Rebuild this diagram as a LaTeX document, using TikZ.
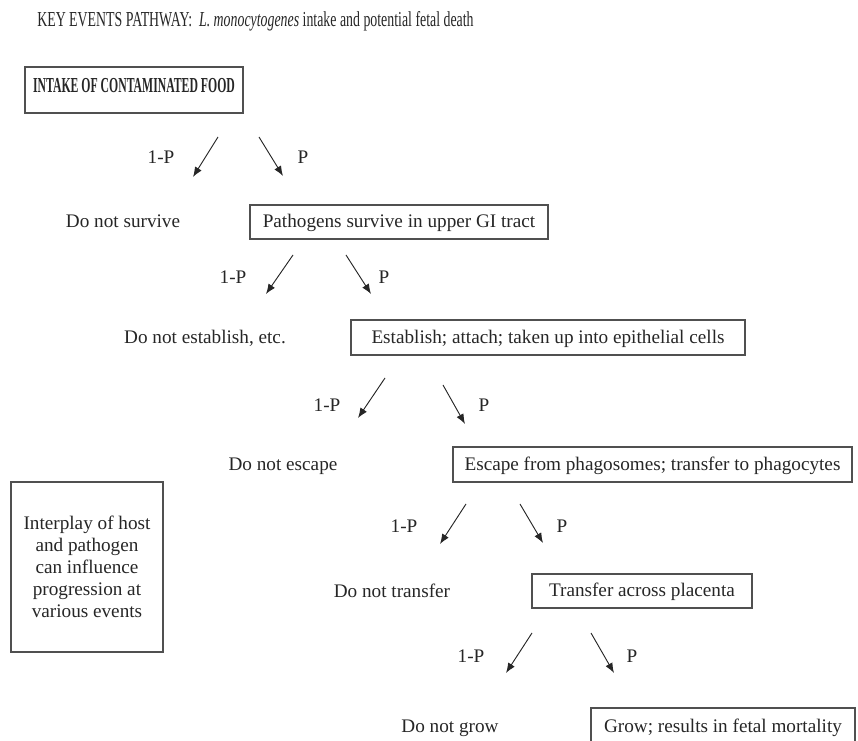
\documentclass[tikz,border=0pt]{standalone}
\usepackage{fontspec}
\setmainfont{Liberation Serif}
\newfontfamily\headfont{Liberation Serif}[FakeStretch=0.65]
\newfontfamily\stepfont{Liberation Serif}[FakeStretch=0.55]
\usetikzlibrary{arrows.meta}
\definecolor{ink}{HTML}{262626}
\definecolor{frame}{HTML}{505050}

\begin{document}
\begin{tikzpicture}[x=0.75pt,y=-0.75pt,
  every node/.style={text=ink, font=\fontsize{14.4}{16.5}\selectfont},
  stage/.style={draw=frame, line width=1.2pt, inner sep=0pt, text height=12pt, text depth=3pt},
  note/.style={draw=frame, line width=1.2pt, inner sep=0pt, align=center},
  branch/.style={draw=ink, line width=0.7pt, -{Latex[length=7.5pt,width=5.8pt]}},
  lbl/.style={anchor=base}]

\useasboundingbox (0,0) rectangle (858,741);
\clip (0,0) rectangle (858,741);

% heading
\node[anchor=base west, inner sep=0pt, font=\headfont\fontsize{16}{19}\selectfont] (title) at (37,27)
  {KEY EVENTS PATHWAY:\ \ \textit{L. monocytogenes} intake and potential fetal death};

% chain of events
\node[stage, minimum width=163.5pt, minimum height=34.5pt, text height=10.8pt, text depth=7pt,
      font=\stepfont\bfseries\fontsize{16}{19}\selectfont] (intake) at (134,90)
  {INTAKE OF CONTAMINATED FOOD};
\node[stage, minimum width=223.5pt, minimum height=25.5pt] (survive) at (399,222)
  {Pathogens survive in upper GI tract};
\node[stage, minimum width=295.5pt, minimum height=26.25pt] (establish) at (548,337.5)
  {Establish; attach; taken up into epithelial cells};
\node[stage, minimum width=299.25pt, minimum height=26.25pt] (escape) at (652.5,464.5)
  {Escape from phagosomes; transfer to phagocytes};
\node[stage, minimum width=165pt, minimum height=25.5pt] (placenta) at (642,591)
  {Transfer across placenta};
\node[stage, minimum width=198pt, minimum height=28.5pt] (grow) at (723,727)
  {Grow; results in fetal mortality};

% outcomes that stop the chain
\node[lbl] (nosurvive) at (123,228) {Do not survive};
\node[lbl] (noestablish) at (205,344) {Do not establish, etc.};
\node[lbl] (noescape) at (283,471) {Do not escape};
\node[lbl] (notransfer) at (392,598) {Do not transfer};
\node[lbl] (nogrow) at (450,733) {Do not grow};

% side remark
\node[note, minimum width=114pt, minimum height=127.5pt] (remark) at (87,567)
  {Interplay of host\\and pathogen\\can influence\\progression at\\various events};

% branch arrows
\coordinate (l1s) at (218,137); \coordinate (l1e) at (193,177);
\coordinate (r1s) at (259,137); \coordinate (r1e) at (283,176);
\coordinate (l2s) at (293,255); \coordinate (l2e) at (266,294);
\coordinate (r2s) at (346,255); \coordinate (r2e) at (371,294);
\coordinate (l3s) at (385,378); \coordinate (l3e) at (358,418);
\coordinate (r3s) at (443,385); \coordinate (r3e) at (465,424);
\coordinate (l4s) at (466,504); \coordinate (l4e) at (440,544);
\coordinate (r4s) at (520,504); \coordinate (r4e) at (543,543);
\coordinate (l5s) at (532,633); \coordinate (l5e) at (506,673);
\coordinate (r5s) at (591,633); \coordinate (r5e) at (614,673);

\foreach \k in {1,...,5} {
  \draw[branch] (l\k s) -- (l\k e);
  \draw[branch] (r\k s) -- (r\k e);
}

% branch probabilities
\node[lbl] (q1) at (161,164) {1-P};  \node[lbl] (p1) at (303,164) {P};
\node[lbl] (q2) at (233,284) {1-P};  \node[lbl] (p2) at (384,284) {P};
\node[lbl] (q3) at (327,412) {1-P};  \node[lbl] (p3) at (484,412) {P};
\node[lbl] (q4) at (404,533) {1-P};  \node[lbl] (p4) at (562,533) {P};
\node[lbl] (q5) at (471,663) {1-P};  \node[lbl] (p5) at (632,663) {P};

\end{tikzpicture}
\end{document}
